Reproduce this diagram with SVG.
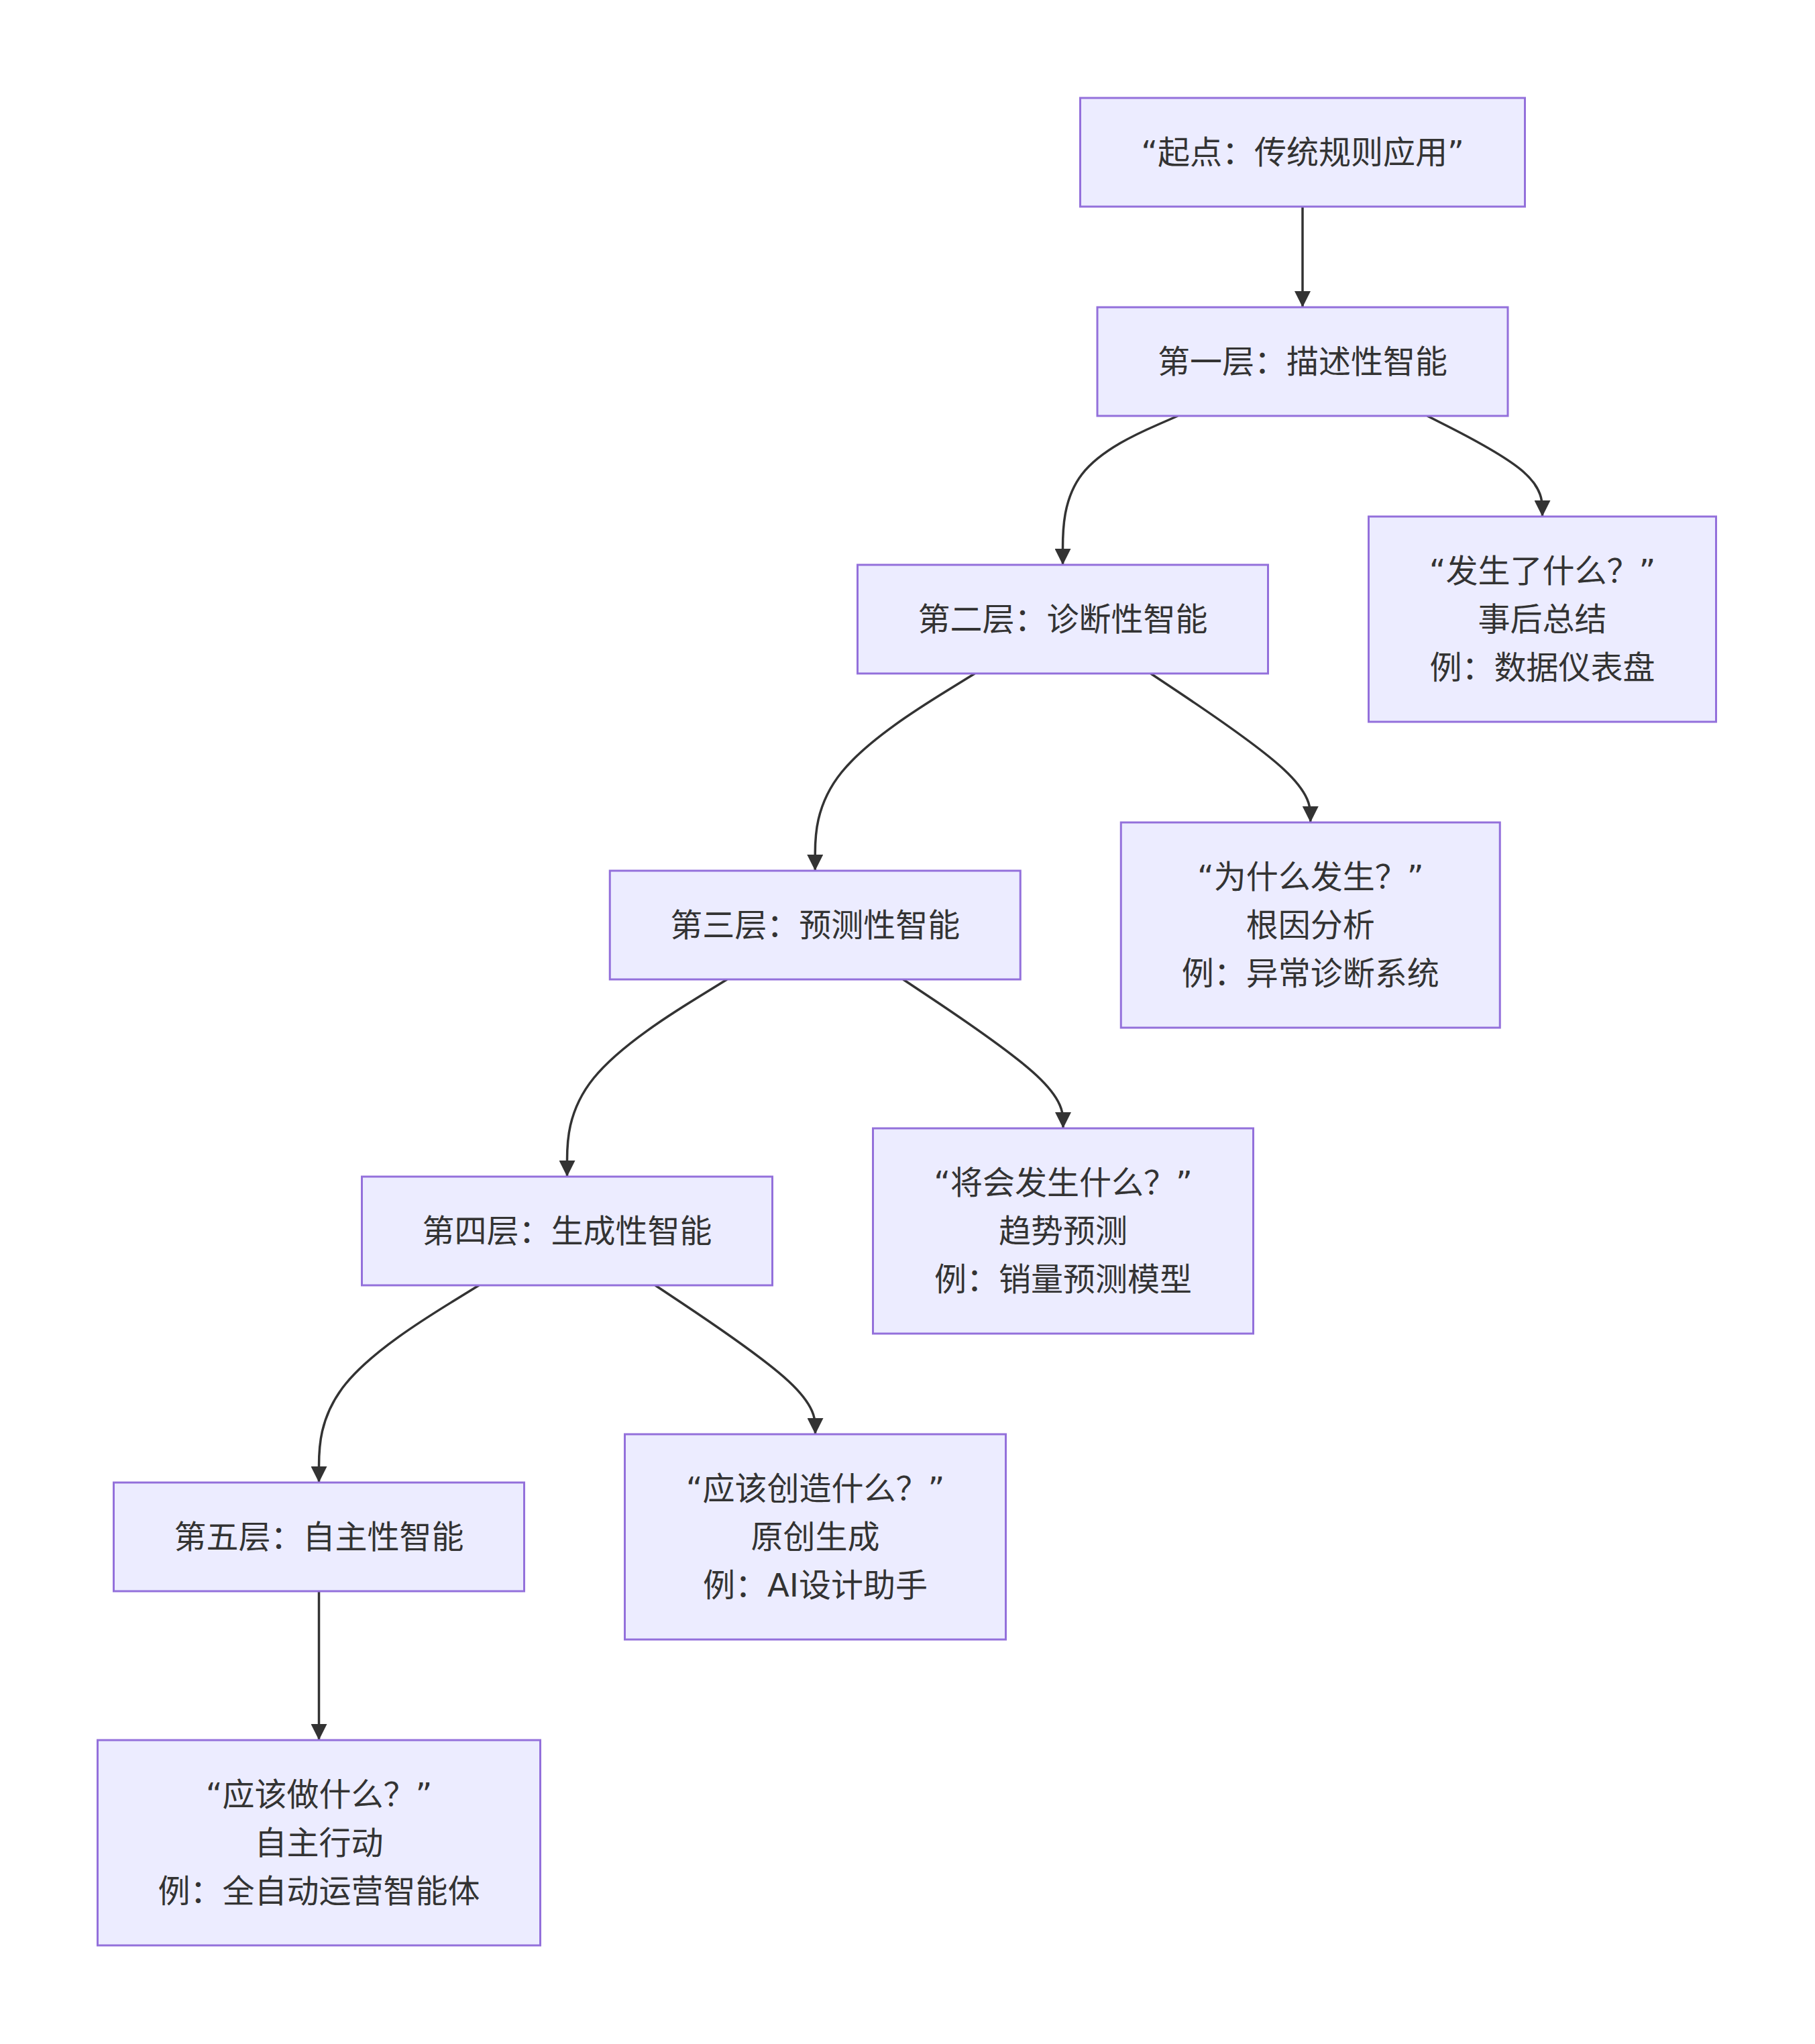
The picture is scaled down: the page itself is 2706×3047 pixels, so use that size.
<svg xmlns="http://www.w3.org/2000/svg" width="2706" height="3047" viewBox="0 0 2706 3047">
<style>
.node rect{fill:#ECECFF;stroke:#9370DB;stroke-width:3}
.node text{font-family:"DejaVu Sans","Noto Sans CJK SC",sans-serif;font-size:48px;fill:#333333;text-anchor:middle;dominant-baseline:central}
.edge{fill:none;stroke:#333333;stroke-width:3.5;marker-end:url(#arrow)}
</style>
<defs>
<marker id="arrow" markerUnits="userSpaceOnUse" viewBox="0 0 10 10" refX="10" refY="5" markerWidth="24" markerHeight="24" orient="auto">
<path d="M0,0 L10,5 L0,10 z" fill="#333333"/>
</marker>
</defs>
<rect width="2706" height="3047" fill="#ffffff"/>
<g id="connectors">
<path class="edge" d="M1942,308 L1942,458"/>
<path class="edge" d="M1756,620 L1727.4,632.5 C1698.8,645 1641.7,670 1613.1,707 C1584.5,744 1584.5,793 1584.5,817.5 L1584.5,842"/>
<path class="edge" d="M2128,620 L2156.6,634.5 C2185.2,649 2242.3,678 2270.9,703 C2299.5,728 2299.5,749 2299.5,759.5 L2299.5,770"/>
<path class="edge" d="M1453.4,1004 L1413.7,1028.5 C1374,1053 1294.6,1102 1254.9,1151 C1215.25,1200 1215.25,1249 1215.25,1273.5 L1215.25,1298"/>
<path class="edge" d="M1715.6,1004 L1755.3,1030.5 C1795,1057 1874.4,1110 1914.1,1147 C1953.75,1184 1953.75,1205 1953.75,1215.5 L1953.75,1226"/>
<path class="edge" d="M1084,1460 L1044.25,1484.5 C1004.5,1509 925,1558 885.25,1607 C845.5,1656 845.5,1705 845.5,1729.5 L845.5,1754"/>
<path class="edge" d="M1346.5,1460 L1386.25,1486.5 C1426,1513 1505.5,1566 1545.25,1603 C1585,1640 1585,1661 1585,1671.5 L1585,1682"/>
<path class="edge" d="M714.1,1916 L674.3,1940.5 C634.6,1965 555,2014 515.3,2063 C475.5,2112 475.5,2161 475.5,2185.5 L475.5,2210"/>
<path class="edge" d="M976.9,1916 L1016.7,1942.5 C1056.4,1969 1136,2022 1175.7,2059 C1215.5,2096 1215.5,2117 1215.5,2127.5 L1215.5,2138"/>
<path class="edge" d="M475.5,2372 L475.5,2594"/>
</g>
<g id="n0" class="node">
<rect x="1610.5" y="146" width="663" height="162"/>
<text x="1942" y="227">“起点：传统规则应用”</text>
</g>
<g id="n1" class="node">
<rect x="1636" y="458" width="612" height="162"/>
<text x="1942" y="539">第一层：描述性智能</text>
</g>
<g id="n2" class="node">
<rect x="2040.5" y="770" width="518" height="306"/>
<text x="2299.5" y="851">“发生了什么？”</text>
<text x="2299.5" y="923">事后总结</text>
<text x="2299.5" y="995">例：数据仪表盘</text>
</g>
<g id="n3" class="node">
<rect x="1278.5" y="842" width="612" height="162"/>
<text x="1584.5" y="923">第二层：诊断性智能</text>
</g>
<g id="n4" class="node">
<rect x="1671.25" y="1226" width="565" height="306"/>
<text x="1953.75" y="1307">“为什么发生？”</text>
<text x="1953.75" y="1379">根因分析</text>
<text x="1953.75" y="1451">例：异常诊断系统</text>
</g>
<g id="n5" class="node">
<rect x="909.25" y="1298" width="612" height="162"/>
<text x="1215.25" y="1379">第三层：预测性智能</text>
</g>
<g id="n6" class="node">
<rect x="1301.5" y="1682" width="567" height="306"/>
<text x="1585" y="1763">“将会发生什么？”</text>
<text x="1585" y="1835">趋势预测</text>
<text x="1585" y="1907">例：销量预测模型</text>
</g>
<g id="n7" class="node">
<rect x="539.5" y="1754" width="612" height="162"/>
<text x="845.5" y="1835">第四层：生成性智能</text>
</g>
<g id="n8" class="node">
<rect x="931.5" y="2138" width="568" height="306"/>
<text x="1215.5" y="2219">“应该创造什么？”</text>
<text x="1215.5" y="2291">原创生成</text>
<text x="1215.5" y="2363">例：AI设计助手</text>
</g>
<g id="n9" class="node">
<rect x="169.5" y="2210" width="612" height="162"/>
<text x="475.5" y="2291">第五层：自主性智能</text>
</g>
<g id="n10" class="node">
<rect x="145.5" y="2594" width="660" height="306"/>
<text x="475.5" y="2675">“应该做什么？”</text>
<text x="475.5" y="2747">自主行动</text>
<text x="475.5" y="2819">例：全自动运营智能体</text>
</g>
</svg>
